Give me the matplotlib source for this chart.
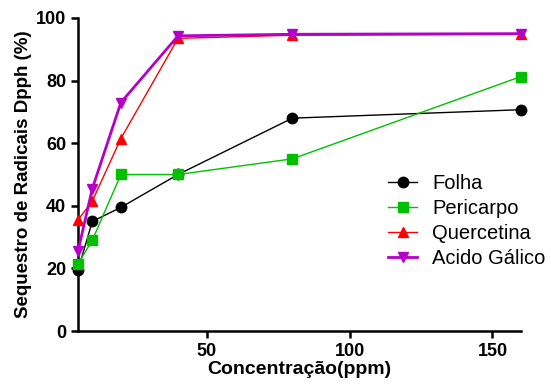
import matplotlib.pyplot as plt

conc = [5, 10, 20, 40, 80, 160]
folha = [19.5, 35, 39.5, 50, 68, 70.7]
pericarpo = [21.5, 29, 50, 50, 55, 81.3]
quercetina = [35.5, 41.5, 61.5, 93.5, 94.5, 94.8]
acido_galico = [25.5, 45.5, 73, 94.3, 94.8, 95]

plt.rcParams['font.family'] = ['Liberation Sans', 'DejaVu Sans']

fig = plt.figure(figsize=(5.51, 3.87), dpi=100)
ax = fig.add_axes([0.1416, 0.1447, 0.804, 0.8088])

ax.plot(conc, folha, color='black', lw=1, marker='o', ms=7.5, label='Folha', clip_on=False, zorder=3)
ax.plot(conc, pericarpo, color='#00c000', lw=1, marker='s', ms=7.5, label='Pericarpo', clip_on=False, zorder=3)
ax.plot(conc, quercetina, color='#ff0000', lw=1, marker='^', ms=7.5, label='Quercetina', clip_on=False, zorder=3)
ax.plot(conc, acido_galico, color='#b400c8', lw=2, marker='v', ms=7.5, label='Acido Gálico', clip_on=False, zorder=3)

ax.set_xlim(5, 160)
ax.set_ylim(0, 100)
ax.set_xticks([50, 100, 150])
ax.set_yticks([0, 20, 40, 60, 80, 100])
for s in ['top', 'right']:
    ax.spines[s].set_visible(False)
for s in ['left', 'bottom']:
    ax.spines[s].set_linewidth(1.8)
ax.tick_params(width=1.8, length=5, labelsize=13)
for lab in ax.get_xticklabels() + ax.get_yticklabels():
    lab.set_fontweight('bold')

ax.set_xlabel('Concentração(ppm)', fontsize=14, fontweight='bold', labelpad=1)
ax.set_ylabel('Sequestro de Radicais Dpph (%)', fontsize=13.5, fontweight='bold', labelpad=3)

ax.legend(loc='center left', bbox_to_anchor=(0.70, 0.351), frameon=False, fontsize=14.5,
          borderaxespad=0, borderpad=0, handlelength=1.45, labelspacing=0.3, handletextpad=0.75)

fig.savefig('out.png', dpi=100)
